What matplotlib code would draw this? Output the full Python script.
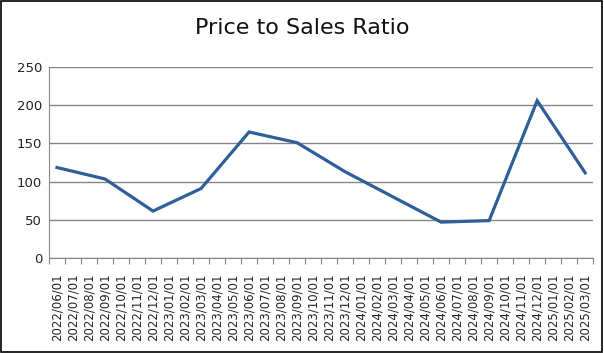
import numpy as np
import matplotlib
matplotlib.use('Agg')
import matplotlib.pyplot as plt

# monthly categories, values only at quarter months
months = ['2022/06/01', '2022/07/01', '2022/08/01', '2022/09/01', '2022/10/01', '2022/11/01',
          '2022/12/01', '2023/01/01', '2023/02/01', '2023/03/01', '2023/04/01', '2023/05/01',
          '2023/06/01', '2023/07/01', '2023/08/01', '2023/09/01', '2023/10/01', '2023/11/01',
          '2023/12/01', '2024/01/01', '2024/02/01', '2024/03/01', '2024/04/01', '2024/05/01',
          '2024/06/01', '2024/07/01', '2024/08/01', '2024/09/01', '2024/10/01', '2024/11/01',
          '2024/12/01', '2025/01/01', '2025/02/01', '2025/03/01']
quarter_months = ['2022/06/01', '2022/09/01', '2022/12/01', '2023/03/01', '2023/06/01',
                  '2023/09/01', '2023/12/01', '2024/03/01', '2024/06/01', '2024/09/01',
                  '2024/12/01', '2025/03/01']
ps_ratio = [118.5, 103.5, 61.5, 91, 165, 151, 113, 80, 47, 49, 206, 111.5]

x = np.array([months.index(m) for m in quarter_months]) + 0.5

fig = plt.figure(figsize=(6.04, 3.53), dpi=100)
ax = fig.add_axes([0.0811, 0.269, 0.901, 0.541])

ax.plot(x, ps_ratio, color='#2F5F98', linewidth=2.3, solid_joinstyle='miter')

ax.set_xlim(0, len(months))
ax.set_ylim(0, 250)
ax.set_yticks(np.arange(0, 251, 50))
ax.yaxis.grid(True, color='#868686', linewidth=1)
ax.set_axisbelow(True)

# tick marks at category borders, labels centered in category
ax.set_xticks(np.arange(0, len(months) + 1))
ax.set_xticklabels([])
ax.set_xticks(np.arange(len(months)) + 0.5, minor=True)
ax.set_xticklabels(months, minor=True, rotation=90, fontsize=8.5, color='#222222')
ax.tick_params(axis='x', which='major', length=4, color='#868686', direction='out')
ax.tick_params(axis='x', which='minor', length=0, pad=11)
ax.tick_params(axis='y', length=0, labelsize=9.5, colors='#222222', pad=5)

for s in ['top', 'right']:
    ax.spines[s].set_visible(False)
ax.spines['left'].set_color('#868686')
ax.spines['bottom'].set_color('#868686')

fig.text(0.5, 0.92, 'Price to Sales Ratio', ha='center', va='center', fontsize=16, color='#111111')

# outer chart border
fig.patches.append(plt.Rectangle((0.002, 0.003), 0.995, 0.994, transform=fig.transFigure,
                                 fill=False, edgecolor='black', linewidth=1.2))

fig.savefig('out.png', dpi=100)
